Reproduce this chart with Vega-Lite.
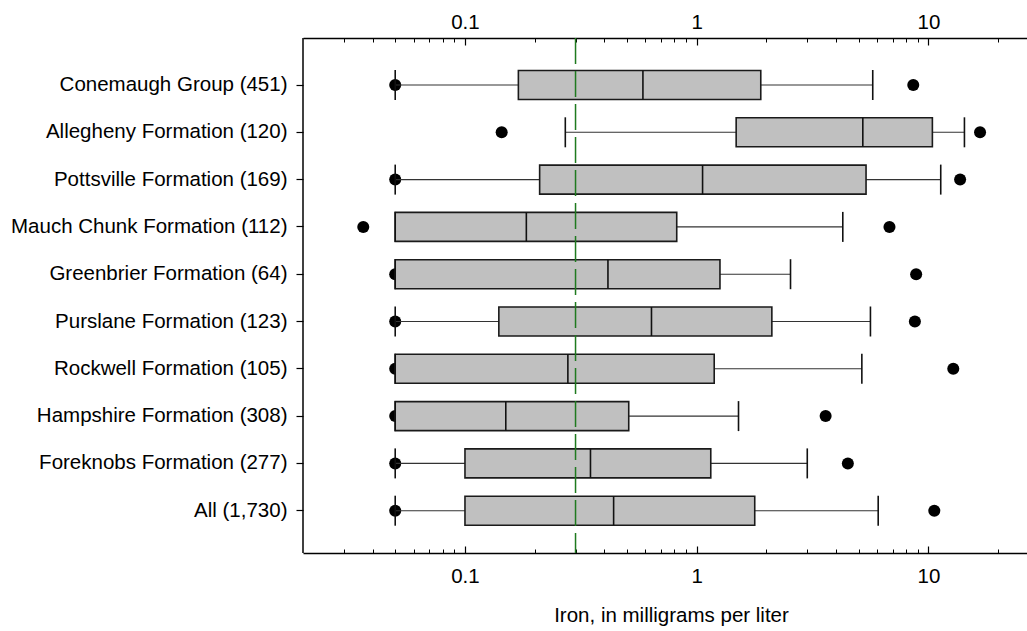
{
  "$schema": "https://vega.github.io/schema/vega-lite/v6.json",
  "width": 724,
  "height": 515,
  "autosize": {"type": "none"},
  "padding": {"left": 303, "top": 38, "right": 0, "bottom": 78},
  "background": "white",
  "config": {
    "view": {"stroke": null},
    "font": "Liberation Sans",
    "axis": {
      "domainColor": "black",
      "tickColor": "black",
      "labelColor": "black",
      "titleColor": "black",
      "labelFont": "Liberation Sans",
      "titleFont": "Liberation Sans",
      "labelFontSize": 20.5,
      "titleFontSize": 20.5,
      "titleFontWeight": "normal",
      "grid": false
    }
  },
  "data": {
    "values": [
      {"unit": "Conemaugh Group (451)", "olo": 0.05, "lo": 0.05, "q1": 0.17, "med": 0.586, "q3": 1.89, "hi": 5.75, "ohi": 8.6},
      {"unit": "Allegheny Formation (120)", "olo": 0.144, "lo": 0.271, "q1": 1.48, "med": 5.21, "q3": 10.4, "hi": 14.3, "ohi": 16.7},
      {"unit": "Pottsville Formation (169)", "olo": 0.05, "lo": 0.05, "q1": 0.21, "med": 1.06, "q3": 5.38, "hi": 11.3, "ohi": 13.7},
      {"unit": "Mauch Chunk Formation (112)", "olo": 0.0364, "lo": 0.05, "q1": 0.05, "med": 0.184, "q3": 0.82, "hi": 4.27, "ohi": 6.79},
      {"unit": "Greenbrier Formation (64)", "olo": 0.05, "lo": 0.05, "q1": 0.05, "med": 0.414, "q3": 1.26, "hi": 2.54, "ohi": 8.85},
      {"unit": "Purslane Formation (123)", "olo": 0.05, "lo": 0.05, "q1": 0.14, "med": 0.638, "q3": 2.11, "hi": 5.62, "ohi": 8.74},
      {"unit": "Rockwell Formation (105)", "olo": 0.05, "lo": 0.05, "q1": 0.05, "med": 0.278, "q3": 1.19, "hi": 5.16, "ohi": 12.8},
      {"unit": "Hampshire Formation (308)", "olo": 0.05, "lo": 0.05, "q1": 0.05, "med": 0.15, "q3": 0.509, "hi": 1.515, "ohi": 3.6},
      {"unit": "Foreknobs Formation (277)", "olo": 0.05, "lo": 0.05, "q1": 0.1, "med": 0.348, "q3": 1.15, "hi": 3.0, "ohi": 4.49},
      {"unit": "All (1,730)", "olo": 0.05, "lo": 0.05, "q1": 0.1, "med": 0.438, "q3": 1.78, "hi": 6.07, "ohi": 10.6}
    ]
  },
  "layer": [
    {
      "data": {"values": [{}]},
      "mark": {"type": "rule", "color": "black", "strokeWidth": 1.5},
      "encoding": {
        "x": {
          "datum": 0.02,
          "type": "quantitative",
          "scale": {"type": "log", "domain": [0.02, 30], "range": [0, 736], "nice": false},
          "axis": {
            "orient": "top",
            "title": null,
            "values": [0.1, 1, 10],
            "labelExpr": "datum.value == 0.1 ? '0.1' : datum.value == 1 ? '1' : '10'",
            "labelOverlap": false,
            "labelFlush": false,
            "tickSize": -7,
            "tickWidth": 1.2,
            "labelPadding": 12.5,
            "domainWidth": 1.5
          }
        }
      }
    },
    {
      "mark": {"type": "circle", "color": "black", "opacity": 1, "size": 145},
      "encoding": {
        "y": {
          "field": "unit",
          "type": "nominal",
          "sort": null,
          "scale": {"type": "band", "range": [23.35, 496.35], "paddingInner": 0, "paddingOuter": 0},
          "axis": {"title": null, "domain": false, "tickSize": 7, "tickWidth": 1.2, "labelPadding": 9, "labelLimit": 400}
        },
        "x": {
          "field": "olo",
          "type": "quantitative",
          "scale": {"type": "log", "domain": [0.02, 30], "range": [0, 736], "nice": false},
          "axis": {
            "orient": "bottom",
            "title": "Iron, in milligrams per liter",
            "titlePadding": 18,
            "values": [0.1, 1, 10],
            "labelExpr": "datum.value == 0.1 ? '0.1' : datum.value == 1 ? '1' : '10'",
            "labelOverlap": false,
            "labelFlush": false,
            "tickSize": -7,
            "tickWidth": 1.2,
            "labelPadding": 20.5,
            "domainWidth": 1.5
          }
        }
      }
    },
    {
      "mark": {"type": "circle", "color": "black", "opacity": 1, "size": 145},
      "encoding": {
        "y": {"field": "unit", "type": "nominal", "sort": null, "scale": {"type": "band", "range": [23.35, 496.35], "paddingInner": 0, "paddingOuter": 0}, "axis": {"title": null, "domain": false, "tickSize": 7, "tickWidth": 1.2, "labelPadding": 9, "labelLimit": 400}},
        "x": {
          "field": "ohi",
          "type": "quantitative",
          "scale": {"type": "log", "domain": [0.02, 30], "range": [0, 736], "nice": false},
          "axis": {
            "orient": "bottom",
            "title": null,
            "values": [0.03, 0.04, 0.05, 0.06, 0.07, 0.08, 0.09, 0.2, 0.3, 0.4, 0.5, 0.6, 0.7, 0.8, 0.9, 2, 3, 4, 5, 6, 7, 8, 9, 20],
            "labels": false,
            "domain": false,
            "tickSize": -4,
            "tickWidth": 1
          }
        }
      }
    },
    {
      "mark": {"type": "rule", "color": "#333333", "strokeWidth": 1.1},
      "encoding": {
        "y": {"field": "unit", "type": "nominal", "sort": null, "scale": {"type": "band", "range": [23.35, 496.35], "paddingInner": 0, "paddingOuter": 0}, "axis": {"title": null, "domain": false, "tickSize": 7, "tickWidth": 1.2, "labelPadding": 9, "labelLimit": 400}},
        "x": {
          "field": "lo",
          "type": "quantitative",
          "scale": {"type": "log", "domain": [0.02, 30], "range": [0, 736], "nice": false},
          "axis": {
            "orient": "top",
            "title": null,
            "values": [0.03, 0.04, 0.05, 0.06, 0.07, 0.08, 0.09, 0.2, 0.3, 0.4, 0.5, 0.6, 0.7, 0.8, 0.9, 2, 3, 4, 5, 6, 7, 8, 9, 20],
            "labels": false,
            "domain": false,
            "tickSize": -4,
            "tickWidth": 1
          }
        },
        "x2": {"field": "q1"}
      }
    },
    {
      "mark": {"type": "rule", "color": "#333333", "strokeWidth": 1.1},
      "encoding": {
        "y": {"field": "unit", "type": "nominal", "sort": null, "scale": {"type": "band", "range": [23.35, 496.35], "paddingInner": 0, "paddingOuter": 0}, "axis": {"title": null, "domain": false, "tickSize": 7, "tickWidth": 1.2, "labelPadding": 9, "labelLimit": 400}},
        "x": {"field": "q3", "type": "quantitative", "scale": {"type": "log", "domain": [0.02, 30], "range": [0, 736], "nice": false}, "axis": null},
        "x2": {"field": "hi"}
      }
    },
    {
      "mark": {"type": "bar", "fill": "#c0c0c0", "stroke": "#1a1a1a", "strokeWidth": 1.6, "height": 29},
      "encoding": {
        "y": {"field": "unit", "type": "nominal", "sort": null, "scale": {"type": "band", "range": [23.35, 496.35], "paddingInner": 0, "paddingOuter": 0}, "axis": {"title": null, "domain": false, "tickSize": 7, "tickWidth": 1.2, "labelPadding": 9, "labelLimit": 400}},
        "x": {"field": "q1", "type": "quantitative", "scale": {"type": "log", "domain": [0.02, 30], "range": [0, 736], "nice": false}, "axis": null},
        "x2": {"field": "q3"}
      }
    },
    {
      "mark": {"type": "tick", "color": "#111111", "thickness": 1.6, "size": 29, "opacity": 1},
      "encoding": {
        "y": {"field": "unit", "type": "nominal", "sort": null, "scale": {"type": "band", "range": [23.35, 496.35], "paddingInner": 0, "paddingOuter": 0}, "axis": {"title": null, "domain": false, "tickSize": 7, "tickWidth": 1.2, "labelPadding": 9, "labelLimit": 400}},
        "x": {"field": "med", "type": "quantitative", "scale": {"type": "log", "domain": [0.02, 30], "range": [0, 736], "nice": false}, "axis": null}
      }
    },
    {
      "mark": {"type": "tick", "color": "#111111", "thickness": 1.6, "size": 30, "opacity": 1},
      "encoding": {
        "y": {"field": "unit", "type": "nominal", "sort": null, "scale": {"type": "band", "range": [23.35, 496.35], "paddingInner": 0, "paddingOuter": 0}, "axis": {"title": null, "domain": false, "tickSize": 7, "tickWidth": 1.2, "labelPadding": 9, "labelLimit": 400}},
        "x": {"field": "lo", "type": "quantitative", "scale": {"type": "log", "domain": [0.02, 30], "range": [0, 736], "nice": false}, "axis": null}
      }
    },
    {
      "mark": {"type": "tick", "color": "#111111", "thickness": 1.6, "size": 30, "opacity": 1},
      "encoding": {
        "y": {"field": "unit", "type": "nominal", "sort": null, "scale": {"type": "band", "range": [23.35, 496.35], "paddingInner": 0, "paddingOuter": 0}, "axis": {"title": null, "domain": false, "tickSize": 7, "tickWidth": 1.2, "labelPadding": 9, "labelLimit": 400}},
        "x": {"field": "hi", "type": "quantitative", "scale": {"type": "log", "domain": [0.02, 30], "range": [0, 736], "nice": false}, "axis": null}
      }
    },
    {
      "data": {"values": [{}]},
      "mark": {"type": "rule", "color": "#1f7a1f", "strokeWidth": 1.5, "strokeDash": [26, 7]},
      "encoding": {
        "x": {"datum": 0.3, "type": "quantitative", "scale": {"type": "log", "domain": [0.02, 30], "range": [0, 736], "nice": false}, "axis": null}
      }
    }
  ],
  "resolve": {"axis": {"x": "independent"}}
}
